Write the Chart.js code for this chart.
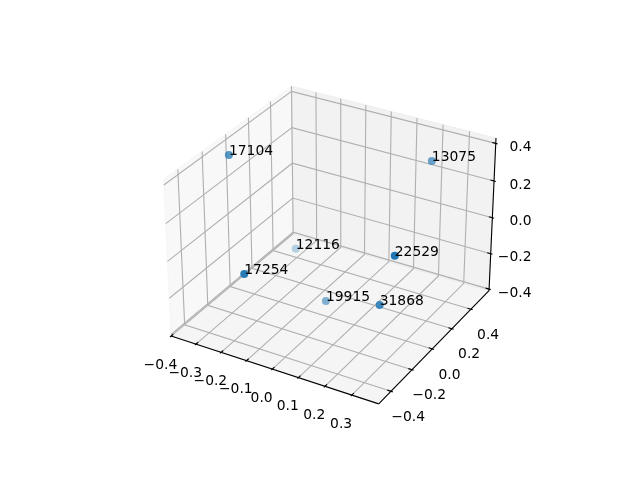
<!DOCTYPE html>
<html>
<head>
<meta charset="utf-8">
<title>3D scatter</title>
<script src="https://cdn.jsdelivr.net/npm/chart.js@4"></script>
<style>
  html, body { margin: 0; padding: 0; background: #fff; }
  canvas { display: block; }
</style>
</head>
<body>
<canvas id="chart" width="640" height="480"></canvas>
<script>
// --- Data ---
const pointLabels = ['17104', '13075', '12116', '22529', '17254', '19915', '31868'];
const xValues = [-0.368, 0.196, -0.250, 0.276, -0.152, -0.029, 0.227];
const yValues = [-0.045, 0.500, 0.276, -0.065, -0.403, 0.042, -0.076];
const zValues = [0.351, 0.276, -0.274, 0.078, -0.022, -0.354, -0.201];

const xTicks = [-0.4, -0.3, -0.2, -0.1, 0.0, 0.1, 0.2, 0.3];
const yTicks = [-0.4, -0.2, 0.0, 0.2, 0.4];
const zTicks = [-0.4, -0.2, 0.0, 0.2, 0.4];

const xLim = [-0.4, 0.399];
const yLim = [-0.514, 0.596];
const zLim = [-0.409, 0.428];

// --- 3D view, same camera as mplot3d (elev 30, azim -60, dist 10) ---
const boxSize = [1.1905, 1.1905, 0.8929];
const viewRight = [0.8660, 0.5, 0];
const viewUp = [-0.25, 0.4330, 0.8660];
const viewNormal = [0.4330, -0.75, 0.5];
const viewDist = 10;
const axesScale = 1997.8, axesCx = 333, axesCy = 237.4;

function dot(a, b) {
    return a[0] * b[0] + a[1] * b[1] + a[2] * b[2];
}

function toBox(x, y, z) {
    return [
        ((x - xLim[0]) / (xLim[1] - xLim[0]) - 0.5) * boxSize[0],
        ((y - yLim[0]) / (yLim[1] - yLim[0]) - 0.5) * boxSize[1],
        ((z - zLim[0]) / (zLim[1] - zLim[0]) - 0.5) * boxSize[2]
    ];
}

function depth(x, y, z) {
    return dot(toBox(x, y, z), viewNormal);
}

// 3D data -> 2D value on the chart's own linear scales
function project(x, y, z) {
    const p = toBox(x, y, z);
    const w = viewDist - dot(p, viewNormal);
    return {
        x: axesCx + axesScale * dot(p, viewRight) / w,
        y: axesCy - axesScale * dot(p, viewUp) / w
    };
}

// --- Helpers for the frame datasets ---
const datasets = [];

function addLine(points, color, width) {
    datasets.push({
        type: 'scatter', showLine: true, data: points.map(p => project(p[0], p[1], p[2])),
        borderColor: color, borderWidth: width, pointRadius: 0, fill: false, tension: 0
    });
}

function addPane(points, color) {
    const pts = points.concat([points[0]]);
    datasets.push({
        type: 'scatter', showLine: true, data: pts.map(p => project(p[0], p[1], p[2])),
        borderColor: color, backgroundColor: color, borderWidth: 1.11, pointRadius: 0,
        fill: 'shape', tension: 0
    });
}

const [x0, x1] = xLim, [y0, y1] = yLim, [z0, z1] = zLim;

// panes
addPane([[x0, y0, z0], [x0, y1, z0], [x0, y1, z1], [x0, y0, z1]], 'rgba(242,242,242,0.5)');
addPane([[x0, y1, z0], [x1, y1, z0], [x1, y1, z1], [x0, y1, z1]], 'rgba(230,230,230,0.5)');
addPane([[x0, y0, z0], [x1, y0, z0], [x1, y1, z0], [x0, y1, z0]], 'rgba(236,236,236,0.5)');

// grid
const gridColor = '#b0b0b0', gridWidth = 1.11;
xTicks.forEach(t => addLine([[t, y0, z0], [t, y1, z0], [t, y1, z1]], gridColor, gridWidth));
yTicks.forEach(t => addLine([[x1, t, z0], [x0, t, z0], [x0, t, z1]], gridColor, gridWidth));
zTicks.forEach(t => addLine([[x0, y0, t], [x0, y1, t], [x1, y1, t]], gridColor, gridWidth));

// axis lines
addLine([[x0, y0, z0], [x1, y0, z0]], '#000', 1.11);
addLine([[x1, y0, z0], [x1, y1, z0]], '#000', 1.11);
addLine([[x1, y1, z0], [x1, y1, z1]], '#000', 1.11);

// tick marks, 0.2 inward and 0.1 outward of a twelfth of the other axis
const dx = (x1 - x0) / 12, dy = (y1 - y0) / 12;
xTicks.forEach(t => addLine([[t, y0 + 0.2 * dy, z0], [t, y0 - 0.1 * dy, z0]], '#000', 1.11));
yTicks.forEach(t => addLine([[x1 - 0.2 * dx, t, z0], [x1 + 0.1 * dx, t, z0]], '#000', 1.11));
zTicks.forEach(t => addLine([[x1 - 0.2 * dx, y1, t], [x1 + 0.1 * dx, y1, t]], '#000', 1.11));

// --- Points, far ones first, alpha from depth like depthshade ---
const order = pointLabels.map((_, i) => i);
const depths = order.map(i => depth(xValues[i], yValues[i], zValues[i]));
order.sort((a, b) => depths[a] - depths[b]);
const dMin = Math.min(...depths), dMax = Math.max(...depths);
const colors = order.map(i => {
    const a = 1 - 0.7 * (dMax - depths[i]) / (dMax - dMin);
    return 'rgba(31,119,180,' + a.toFixed(3) + ')';
});
datasets.push({
    type: 'scatter',
    data: order.map(i => project(xValues[i], yValues[i], zValues[i])),
    pointRadius: 4,
    pointBorderWidth: 0,
    pointBackgroundColor: colors
});

// first dataset is painted last in Chart.js, so give back ones a high order
datasets.forEach((d, i) => { d.order = datasets.length - i; });

// --- Text: tick labels and point labels ---
const textPlugin = {
    id: 'texts3d',
    afterDatasetsDraw(chart) {
        const ctx = chart.ctx, sx = chart.scales.x, sy = chart.scales.y;
        function put(text, pos, ox, oy, align, base) {
            ctx.textAlign = align;
            ctx.textBaseline = base;
            ctx.fillText(text, sx.getPixelForValue(pos.x) + ox, sy.getPixelForValue(pos.y) + oy);
        }
        function fmt(v) {
            return (v < 0 ? '\u2212' : '') + Math.abs(v).toFixed(1);
        }
        ctx.save();
        ctx.font = '13.89px "DejaVu Sans"';
        ctx.fillStyle = '#000';
        xTicks.forEach(t => put(fmt(t), project(t, y0, z0), -10.7, 29, 'center', 'middle'));
        yTicks.forEach(t => put(fmt(t), project(x1, t, z0), 17.2, 26, 'center', 'middle'));
        const zRight = project(x1, y1, z1);
        zTicks.forEach(t => {
            const p = project(x1, y1, t);
            put(fmt(t), { x: zRight.x, y: p.y }, 35.5, 4, 'right', 'middle');
        });
        pointLabels.forEach((s, i) => {
            put(s, project(xValues[i], yValues[i], zValues[i]), 0, 0, 'left', 'alphabetic');
        });
        ctx.restore();
    }
};

new Chart(document.getElementById('chart'), {
    type: 'scatter',
    data: { datasets: datasets },
    plugins: [textPlugin],
    options: {
        responsive: false,
        animation: false,
        events: [],
        layout: { padding: 0, autoPadding: false },
        plugins: { legend: { display: false }, tooltip: { enabled: false } },
        scales: {
            x: { type: 'linear', min: 0, max: 640, display: false },
            y: { type: 'linear', min: 0, max: 480, reverse: true, display: false }
        }
    }
});
</script>
</body>
</html>
